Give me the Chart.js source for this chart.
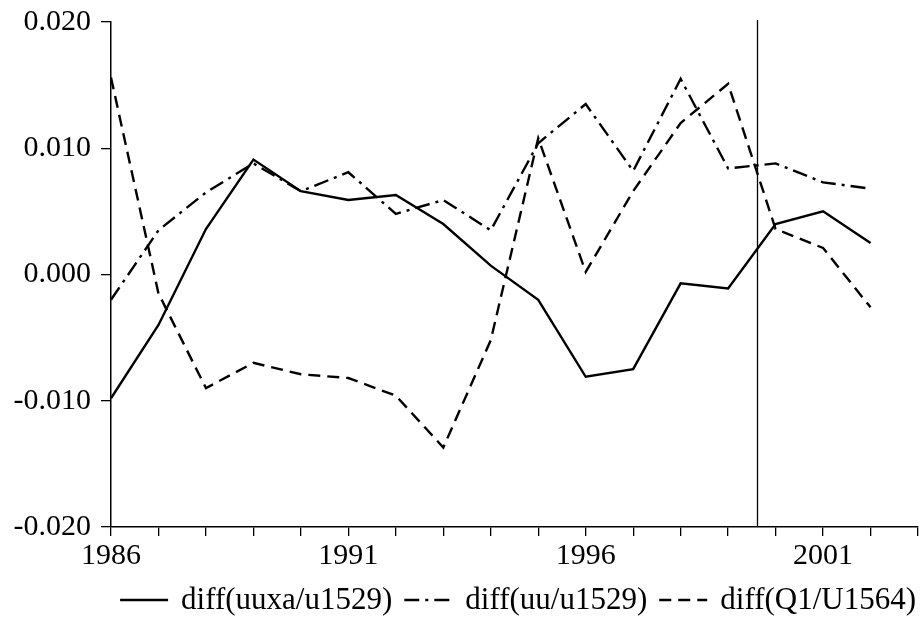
<!DOCTYPE html>
<html>
<head>
<meta charset="utf-8">
<script src="https://cdn.jsdelivr.net/npm/chart.js@4.4.0/dist/chart.umd.min.js"></script>
<style>
  html, body { margin: 0; padding: 0; background: #fff; }
  #wrap { width: 920px; height: 617px; position: relative; }
</style>
</head>
<body>
<div id="wrap"><canvas id="grafico"></canvas></div>
<script>
// ---------- datos ----------
const years = [1986, 1987, 1988, 1989, 1990, 1991, 1992, 1993, 1994, 1995, 1996, 1997, 1998, 1999, 2000, 2001, 2002];

const uuxa = [-0.0098, -0.0040, 0.0036, 0.0091, 0.0066, 0.0059, 0.0063, 0.0040, 0.0007, -0.0020,
              -0.0081, -0.0075, -0.0007, -0.0011, 0.0040, 0.0050, 0.0025];
const uu   = [-0.0020, 0.0035, 0.0065, 0.0088, 0.0066, 0.0081, 0.0048, 0.0059, 0.0035, 0.0104,
              0.0135, 0.0082, 0.0155, 0.0084, 0.0088, 0.0073, 0.0068];
const q1   = [0.0156, -0.0015, -0.0090, -0.0070, -0.0079, -0.0082, -0.0096, -0.0137, -0.0052, 0.0108,
              0.0002, 0.0066, 0.0120, 0.0151, 0.0036, 0.0021, -0.0026];

const seriesNames = ['diff(uuxa/u1529)', 'diff(uu/u1529)', 'diff(Q1/U1564)'];
const yTicks = [-0.020, -0.010, 0.000, 0.010, 0.020];
const xLabelYears = [1986, 1991, 1996, 2001];
const markerYear = 1999.6;   // linea vertical

const FONT = "'Liberation Serif', 'Times New Roman', serif";

// ---------- helpers ----------
const toPoints = (vals) => vals.map((v, i) => ({ x: years[i], y: v }));

// linea vertical
const marcaVertical = {
  id: 'marcaVertical',
  afterDatasetsDraw(chart) {
    const { ctx, chartArea, scales } = chart;
    const x = Math.round(scales.x.getPixelForValue(markerYear)) + 0.5;
    ctx.save();
    ctx.strokeStyle = '#000';
    ctx.lineWidth = 1.3;
    ctx.beginPath();
    ctx.moveTo(x, chartArea.top - 2);
    ctx.lineTo(x, chartArea.bottom);
    ctx.stroke();
    ctx.restore();
  }
};

// leyenda abajo, alineada a la derecha
const leyenda = {
  id: 'leyenda',
  afterDraw(chart) {
    const { ctx } = chart;
    const sample = 48, gapTxt = 13, gapItem = 12;
    const yMid = 600;
    ctx.save();
    ctx.font = `31px ${FONT}`;
    ctx.textBaseline = 'middle';
    const items = chart.data.datasets.map(ds => ({ ds, w: ctx.measureText(ds.label).width }));
    const total = items.reduce((a, it) => a + sample + gapTxt + it.w, 0) + gapItem * (items.length - 1);
    let x = 916 - total;
    items.forEach(({ ds, w }) => {
      ctx.strokeStyle = '#000';
      ctx.lineWidth = ds.borderWidth;
      ctx.setLineDash(ds.borderDash || []);
      ctx.beginPath();
      ctx.moveTo(x, yMid);
      ctx.lineTo(x + sample, yMid);
      ctx.stroke();
      ctx.setLineDash([]);
      ctx.fillStyle = '#000';
      ctx.fillText(ds.label, x + sample + gapTxt, yMid + 1);
      x += sample + gapTxt + w + gapItem;
    });
    ctx.restore();
  }
};

// ---------- grafico ----------
const ctx = document.getElementById('grafico');
new Chart(ctx, {
  type: 'line',
  data: {
    datasets: [
      { label: seriesNames[0], data: toPoints(uuxa), borderColor: '#000', borderWidth: 2.4, borderDash: [], pointRadius: 0, tension: 0 },
      { label: seriesNames[1], data: toPoints(uu), borderColor: '#000', borderWidth: 2.4, borderDash: [15, 6, 3, 6], pointRadius: 0, tension: 0 },
      { label: seriesNames[2], data: toPoints(q1), borderColor: '#000', borderWidth: 2.4, borderDash: [12, 7], pointRadius: 0, tension: 0 }
    ]
  },
  options: {
    responsive: true,
    maintainAspectRatio: false,
    animation: false,
    layout: { padding: { top: 22, right: 2, left: 0, bottom: 0 } },
    plugins: {
      legend: { display: false },
      tooltip: { enabled: false }
    },
    scales: {
      x: {
        type: 'linear',
        min: 1986,
        max: 2003,
        border: { display: true, color: '#000', width: 1.5 },
        grid: { drawOnChartArea: false, drawTicks: true, tickLength: 9, color: '#000', lineWidth: 1.3 },
        ticks: {
          stepSize: 1,
          autoSkip: false,
          maxRotation: 0,
          padding: 2,
          color: '#000',
          font: { family: FONT, size: 30 },
          callback: (v) => xLabelYears.includes(v) ? String(v) : ''
        },
        afterFit: (scale) => { scale.height = 90; }
      },
      y: {
        min: -0.02,
        max: 0.02,
        border: { display: true, color: '#000', width: 1.5 },
        grid: { drawOnChartArea: false, drawTicks: true, tickLength: 10, color: '#000', lineWidth: 1.3 },
        afterBuildTicks: (scale) => { scale.ticks = yTicks.map(v => ({ value: v })); },
        ticks: {
          padding: 10,
          color: '#000',
          font: { family: FONT, size: 30 },
          callback: (v) => v.toFixed(3)
        },
        afterFit: (scale) => {
          scale.width = 111;
          scale.paddingTop = 0;
          scale.paddingBottom = 0;
        }
      }
    }
  },
  plugins: [marcaVertical, leyenda]
});
</script>
</body>
</html>
